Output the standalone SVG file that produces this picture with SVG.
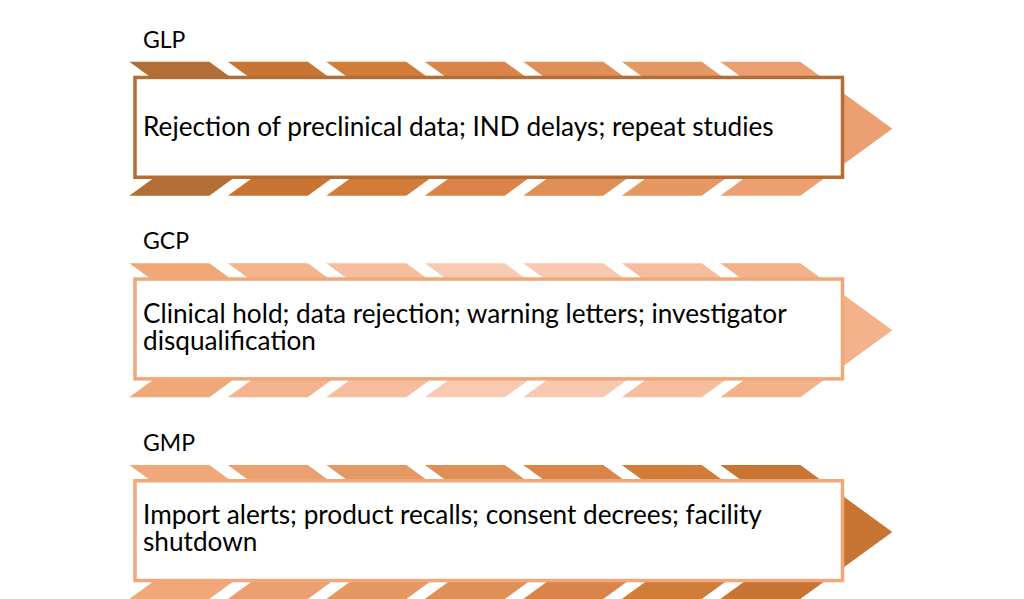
<svg xmlns="http://www.w3.org/2000/svg" xmlns:xlink="http://www.w3.org/1999/xlink" width="1024" height="599" viewBox="0 0 1024 599">
<style>
.lbl{font-family:Lato,"Open Sans","Liberation Sans",sans-serif;font-size:23px;fill:#000}
.txt{font-family:Lato,"Open Sans","Liberation Sans",sans-serif;font-size:26.2px;fill:#000}
.box{fill:#fff;stroke-width:3.5}
</style>
<defs>
<polygon id="chev" points="0,0 80,0 172,67 80,134 0,134 92,67"/>
</defs>
<rect width="1024" height="599" fill="#fff"/>
<g id="row-glp" transform="translate(0,61.7)">
<use xlink:href="#chev" x="129.3" fill="#B36E35"/>
<use xlink:href="#chev" x="227.8" fill="#C87432"/>
<use xlink:href="#chev" x="326.3" fill="#D27C3A"/>
<use xlink:href="#chev" x="424.8" fill="#DA844A"/>
<use xlink:href="#chev" x="523.3" fill="#E08F57"/>
<use xlink:href="#chev" x="621.8" fill="#E69863"/>
<use xlink:href="#chev" x="720.3" fill="#EC9F70"/>
<rect class="box" x="135" y="15.75" width="707.5" height="99.8" stroke="#B46E34"/>
<text class="lbl" x="143" y="-14">GLP</text>
<text class="txt" x="143" y="74.3">Rejection of preclinical data; IND delays; repeat studies</text>
</g>
<g id="row-gcp" transform="translate(0,263.3)">
<use xlink:href="#chev" x="129.3" fill="#F0A878"/>
<use xlink:href="#chev" x="227.8" fill="#F3B48D"/>
<use xlink:href="#chev" x="326.3" fill="#F6BE9E"/>
<use xlink:href="#chev" x="424.8" fill="#F8CAB2"/>
<use xlink:href="#chev" x="523.3" fill="#F8C9B0"/>
<use xlink:href="#chev" x="621.8" fill="#F6BE9E"/>
<use xlink:href="#chev" x="720.3" fill="#F3B28A"/>
<rect class="box" x="135" y="15.75" width="707.5" height="99.8" stroke="#F0A878"/>
<text class="lbl" x="143" y="-14">GCP</text>
<text class="txt" x="143" y="59.4">Clinical hold; data rejection; warning letters; investigator</text>
<text class="txt" x="143" y="86.7">disqualification</text>
</g>
<g id="row-gmp" transform="translate(0,465)">
<use xlink:href="#chev" x="129.3" fill="#F0A878"/>
<use xlink:href="#chev" x="227.8" fill="#EC9F70"/>
<use xlink:href="#chev" x="326.3" fill="#E69863"/>
<use xlink:href="#chev" x="424.8" fill="#E08F57"/>
<use xlink:href="#chev" x="523.3" fill="#DA844A"/>
<use xlink:href="#chev" x="621.8" fill="#D27C3A"/>
<use xlink:href="#chev" x="720.3" fill="#C87432"/>
<rect class="box" x="135" y="15.75" width="707.5" height="99.8" stroke="#F0A878"/>
<text class="lbl" x="143" y="-14">GMP</text>
<text class="txt" x="143" y="59">Import alerts; product recalls; consent decrees; facility</text>
<text class="txt" x="143" y="86">shutdown</text>
</g>
<g id="connectors"/>
</svg>
